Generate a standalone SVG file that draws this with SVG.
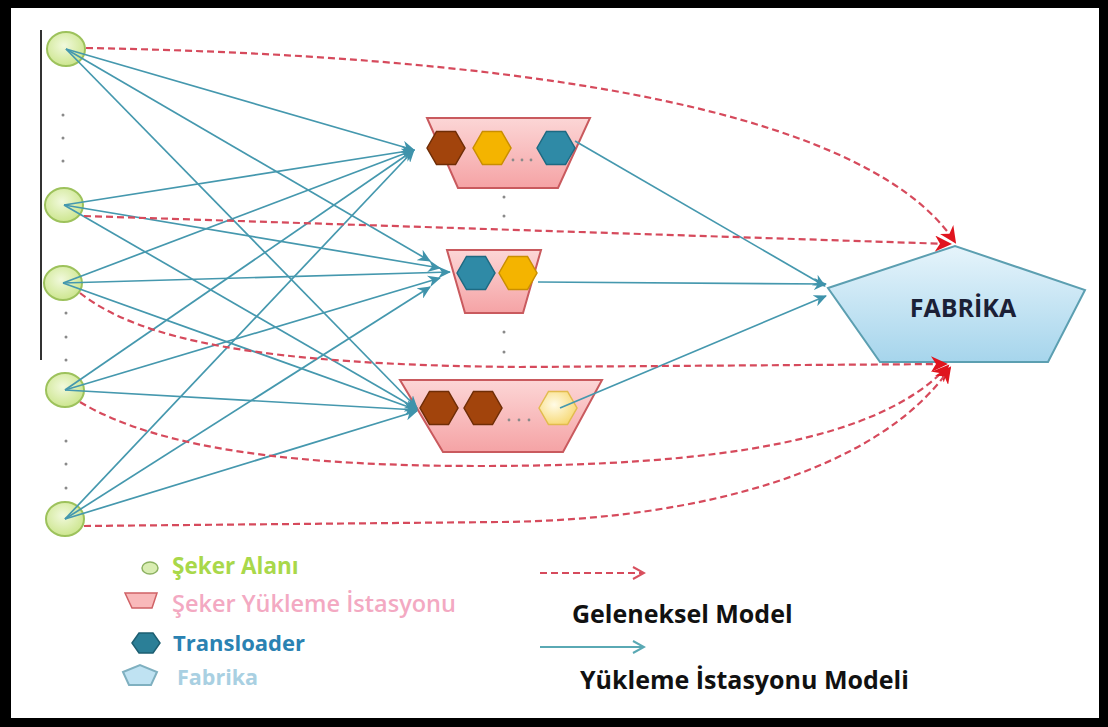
<svg xmlns="http://www.w3.org/2000/svg" width="1108" height="727" viewBox="0 0 1108 727">
  <defs>
    <radialGradient id="gField" cx="45%" cy="40%" r="60%">
      <stop offset="0" stop-color="#f1f9dc"/>
      <stop offset="1" stop-color="#cde68f"/>
    </radialGradient>
    <linearGradient id="gStation" x1="0" y1="0" x2="0" y2="1">
      <stop offset="0" stop-color="#fcd6d6"/>
      <stop offset="1" stop-color="#f5a3a5"/>
    </linearGradient>
    <linearGradient id="gFactory" x1="0" y1="0" x2="0" y2="1">
      <stop offset="0" stop-color="#e6f4fb"/>
      <stop offset="1" stop-color="#a6d5ec"/>
    </linearGradient>
    <radialGradient id="gPale" cx="40%" cy="40%" r="65%">
      <stop offset="0" stop-color="#fffbe6"/>
      <stop offset="1" stop-color="#f7d872"/>
    </radialGradient>
    <marker id="tealHead" markerUnits="userSpaceOnUse" markerWidth="14" markerHeight="12" refX="12" refY="6" orient="auto">
      <path d="M0,0 L13,6 L0,12 L4,6 z" fill="#3f93ab"/>
    </marker>
    <marker id="redHead" markerUnits="userSpaceOnUse" markerWidth="18" markerHeight="16" refX="15" refY="8" orient="auto">
      <path d="M0,0 L17,8 L0,16 L5,8 z" fill="#e0141e"/>
    </marker>
    <marker id="tealOpen" markerUnits="userSpaceOnUse" markerWidth="14" markerHeight="14" refX="12" refY="7" orient="auto">
      <path d="M1,1 L12,7 L1,13" fill="none" stroke="#5aa9b4" stroke-width="2"/>
    </marker>
    <marker id="redOpen" markerUnits="userSpaceOnUse" markerWidth="14" markerHeight="14" refX="12" refY="7" orient="auto">
      <path d="M1,1 L12,7 L1,13" fill="none" stroke="#d8505e" stroke-width="2"/>
    </marker>
    <polygon id="hex" points="-19,0 -9.5,-16.5 9.5,-16.5 19,0 9.5,16.5 -9.5,16.5"/>
  </defs>
  <style>
    .field { fill: url(#gField); stroke: #9dc25c; stroke-width: 2; }
    .station { fill: url(#gStation); stroke: #c95a5e; stroke-width: 2; }
    .factory { fill: url(#gFactory); stroke: #5c9fb1; stroke-width: 2; }
    .brown { fill: #a2440c; stroke: #6f2d06; stroke-width: 1.5; }
    .gold { fill: #f4b400; stroke: #c98e00; stroke-width: 1.5; }
    .teal { fill: #2f8aa6; stroke: #1d6a82; stroke-width: 1.5; }
    .pale { fill: url(#gPale); stroke: #e2bb4e; stroke-width: 1.5; }
    .dot { fill: #8a8a8a; }
    .flow { fill: none; stroke: #4598ae; stroke-width: 1.7; }
    .trad { fill: none; stroke: #d64a5c; stroke-width: 2.2; stroke-dasharray: 7 4; }
    .lbl { font-family: "Open Sans", "Liberation Sans", sans-serif; font-weight: 700; }
  </style>

  <!-- frame -->
  <rect x="0" y="0" width="1108" height="727" fill="#000"/>
  <rect x="11" y="8" width="1088" height="710" fill="#fff"/>

  <!-- bracket line beside the fields -->
  <line x1="41" y1="30" x2="41" y2="360" stroke="#333" stroke-width="2"/>

  <!-- continuation dots -->
  <g class="dot">
    <circle cx="63" cy="115" r="1.5"/><circle cx="63" cy="138" r="1.5"/><circle cx="63" cy="161" r="1.5"/>
    <circle cx="66" cy="313" r="1.5"/><circle cx="66" cy="337" r="1.5"/><circle cx="66" cy="360" r="1.5"/>
    <circle cx="66" cy="441" r="1.5"/><circle cx="66" cy="464" r="1.5"/><circle cx="66" cy="488" r="1.5"/>
    <circle cx="504" cy="197" r="1.5"/><circle cx="504" cy="216" r="1.5"/>
    <circle cx="504" cy="332" r="1.5"/><circle cx="504" cy="352" r="1.5"/>
  </g>

  <!-- sugar fields -->
  <g id="field1"><ellipse class="field" cx="66" cy="49" rx="19" ry="17"/></g>
  <g id="field2"><ellipse class="field" cx="64" cy="205" rx="19" ry="17"/></g>
  <g id="field3"><ellipse class="field" cx="63" cy="283" rx="19" ry="17"/></g>
  <g id="field4"><ellipse class="field" cx="65" cy="390" rx="19" ry="17"/></g>
  <g id="field5"><ellipse class="field" cx="65" cy="519" rx="19" ry="17"/></g>

  <!-- loading stations -->
  <g id="station1">
    <polygon class="station" points="427,118 590,118 558,188 458,188"/>
    <use href="#hex" x="446" y="148" class="brown"/>
    <use href="#hex" x="492" y="148" class="gold"/>
    <use href="#hex" x="556" y="148" class="teal"/>
    <g class="dot"><circle cx="513" cy="160" r="1.4"/><circle cx="522" cy="160" r="1.4"/><circle cx="531" cy="160" r="1.4"/></g>
  </g>
  <g id="station2">
    <polygon class="station" points="447,250 541,250 523,313 465,313"/>
    <use href="#hex" x="476" y="273" class="teal"/>
    <use href="#hex" x="518" y="273" class="gold"/>
  </g>
  <g id="station3">
    <polygon class="station" points="400,380 602,380 563,452 443,452"/>
    <use href="#hex" x="439" y="408" class="brown"/>
    <use href="#hex" x="483" y="408" class="brown"/>
    <use href="#hex" x="558" y="408" class="pale"/>
    <g class="dot"><circle cx="509" cy="420" r="1.4"/><circle cx="519" cy="420" r="1.4"/><circle cx="529" cy="420" r="1.4"/></g>
  </g>

  <!-- factory -->
  <g id="factory">
    <polygon class="factory" points="828,288 955,246 1085,290 1048,362 880,362"/>
    <text class="lbl" x="963" y="317" font-size="25" fill="#1b2036" text-anchor="middle">FABRİKA</text>
  </g>

  <!-- connectors -->
  <g id="connectors">
    <!-- loading-station model: fields to stations -->
    <g class="flow" marker-end="url(#tealHead)">
      <line x1="66" y1="49" x2="414" y2="150"/>
      <line x1="64" y1="205" x2="414" y2="150"/>
      <line x1="63" y1="283" x2="414" y2="150"/>
      <line x1="65" y1="390" x2="414" y2="150"/>
      <line x1="65" y1="519" x2="414" y2="150"/>

      <line x1="66" y1="49" x2="430" y2="261"/>
      <line x1="64" y1="205" x2="440" y2="268"/>
      <line x1="63" y1="283" x2="450" y2="272"/>
      <line x1="65" y1="390" x2="440" y2="278"/>
      <line x1="65" y1="519" x2="430" y2="287"/>

      <line x1="66" y1="49" x2="417" y2="408"/>
      <line x1="64" y1="205" x2="417" y2="409"/>
      <line x1="63" y1="283" x2="417" y2="410"/>
      <line x1="65" y1="390" x2="417" y2="410"/>
      <line x1="65" y1="519" x2="417" y2="411"/>

      <!-- stations to factory -->
      <line x1="575" y1="141" x2="825" y2="286"/>
      <line x1="538" y1="282" x2="826" y2="284"/>
      <line x1="560" y1="408" x2="826" y2="296"/>
    </g>

    <!-- traditional model: fields straight to factory -->
    <g class="trad" marker-end="url(#redHead)">
      <path d="M86,48 C480,55 860,100 955,242"/>
      <path d="M84,216 L950,244"/>
      <path d="M80,293 C140,340 260,365 520,367 L946,364"/>
      <path d="M80,402 C160,450 300,466 480,466 C720,466 880,440 948,366"/>
      <path d="M84,526 L500,522 C700,520 880,470 950,368"/>
    </g>
  </g>

  <!-- legend -->
  <g id="legend">
    <ellipse cx="150" cy="568" rx="8" ry="6" fill="#d9edb2" stroke="#8db262" stroke-width="1.5"/>
    <text class="lbl" x="172" y="574" font-size="22.5" fill="#a9d84a">Şeker Alanı</text>

    <polygon points="125,593 157,593 152,608 132,608" fill="#f9b9ba" stroke="#d06266" stroke-width="1.5"/>
    <text x="172" y="612" font-size="23.5" font-family="Open Sans, Liberation Sans, sans-serif" font-weight="600" fill="#f3a9c2">Şeker Yükleme İstasyonu</text>

    <polygon points="132,643 139,633 153,633 160,643 153,653 139,653" fill="#2b7f97" stroke="#1d5f72" stroke-width="1.5"/>
    <text class="lbl" x="173" y="651" font-size="22" fill="#2a82b2">Transloader</text>

    <polygon points="123,672 140,665 157,672 151,685 129,685" fill="#bfe2f2" stroke="#7fb0c0" stroke-width="2"/>
    <text class="lbl" x="177" y="685" font-size="21.5" fill="#a9d0e2">Fabrika</text>

    <line x1="540" y1="573" x2="644" y2="573" class="trad" stroke-width="2" marker-end="url(#redOpen)"/>
    <text class="lbl" x="572" y="623" font-size="25" fill="#111">Geleneksel Model</text>

    <line x1="540" y1="647" x2="644" y2="647" stroke="#5aa9b4" stroke-width="2" marker-end="url(#tealOpen)"/>
    <text class="lbl" x="580" y="689" font-size="25" fill="#111">Yükleme İstasyonu Modeli</text>
  </g>
</svg>
